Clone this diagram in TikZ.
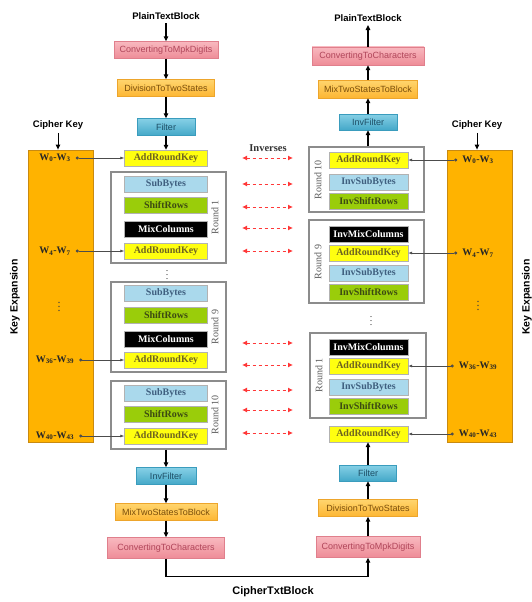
\documentclass[tikz,border=0pt]{standalone}
\usepackage{fontspec}
\setmainfont{Liberation Serif}
\setsansfont{Liberation Sans}
\usepackage{xcolor}
\usepackage{tikz}
\usetikzlibrary{arrows.meta,positioning,fit,backgrounds}
\definecolor{aesconvtop}{HTML}{F8B8BF}
\definecolor{aesconvbot}{HTML}{EE8C97}
\definecolor{aesconvline}{HTML}{E07F8C}
\definecolor{aesconvtext}{HTML}{B0465A}
\definecolor{aesdivtop}{HTML}{FFD56E}
\definecolor{aesdivbot}{HTML}{FDB633}
\definecolor{aesdivline}{HTML}{EDA52C}
\definecolor{aesdivtext}{HTML}{7A4E0B}
\definecolor{aesfilttop}{HTML}{86D0E6}
\definecolor{aesfiltbot}{HTML}{44A8C8}
\definecolor{aesfiltline}{HTML}{3A9CBD}
\definecolor{aesfilttext}{HTML}{1E4F66}
\definecolor{aesyellow}{HTML}{FFFF10}
\definecolor{aesarktext}{HTML}{6E6420}
\definecolor{aessubfill}{HTML}{AAD9EC}
\definecolor{aessubtext}{HTML}{3F5F7F}
\definecolor{aesshiftfill}{HTML}{9ACD0A}
\definecolor{aesshifttext}{HTML}{3C4A12}
\definecolor{aeskeyfill}{HTML}{FFB300}
\definecolor{aeskeyline}{HTML}{C98A10}
\definecolor{aesred}{HTML}{FF3838}
\tikzset{
  aesstage/.style={draw,inner sep=0pt,align=center},
  aespipe/.style={aesstage,font=\sffamily\fontsize{9}{10}\selectfont,minimum height=17},
  aesconv/.style={aespipe,draw=aesconvline,top color=aesconvtop,bottom color=aesconvbot,
                  text=aesconvtext},
  aesdiv/.style={aespipe,draw=aesdivline,top color=aesdivtop,bottom color=aesdivbot,
                 text=aesdivtext},
  aesfilt/.style={aespipe,draw=aesfiltline,top color=aesfilttop,bottom color=aesfiltbot,
                  text=aesfilttext},
  aesop/.style={aesstage,draw=black!30,font=\bfseries\fontsize{10}{11}\selectfont,
                minimum height=16},
  aesark/.style={aesop,fill=aesyellow,text=aesarktext},
  aessub/.style={aesop,fill=aessubfill,text=aessubtext},
  aesshift/.style={aesop,fill=aesshiftfill,text=aesshifttext},
  aesmix/.style={aesop,fill=black,text=white},
  aesround/.style={draw=black!45,line width=1.3pt,inner sep=0pt},
  aesroundlab/.style={rotate=90,font=\fontsize{10}{11}\selectfont,text=black!65},
  aeskey/.style={draw=aeskeyline,fill=aeskeyfill,line width=0.8pt,inner sep=0pt},
  aesw/.style={font=\bfseries\fontsize{10}{11}\selectfont,text=black!85,inner xsep=5pt},
  aesdots/.style={inner sep=0pt,font=\fontsize{10}{10}\selectfont,text=black!75},
  aestitle/.style={font=\sffamily\bfseries\fontsize{9.5}{11}\selectfont},
  aesflow/.style={-{Triangle[length=5pt,width=4.5pt]},line width=1.3pt},
  aeswflow/.style={{Circle[length=3pt]}-{Latex[length=4pt,width=3pt]},black!70,line width=0.6pt},
  aesinverse/.style={{Latex[length=5pt,width=5pt]}-{Latex[length=5pt,width=5pt]},aesred,
                     line width=1pt,dash pattern=on 3pt off 3pt}
}

\begin{document}
\begin{tikzpicture}[
  x=1pt,y=-1pt,
  opL/.style={minimum width=83},
  opR/.style={minimum width=79}
]
  \useasboundingbox (0,0) rectangle (531,602);

  % encryption side
  \node[aestitle] (ptL) at (166,16) {PlainTextBlock};
  \node[aesconv,minimum width=104] (cmdL) at (166,50) {ConvertingToMpkDigits};
  \node[aesdiv,minimum width=97] (dtsL) at (166,88) {DivisionToTwoStates};
  \node[aesfilt,minimum width=58] (filL) at (166,127) {Filter};
  \node[aesark,opL] (ark0L) at (166,158) {AddRoundKey};

  \node[aesround,minimum width=115,minimum height=91] (rnd1L) at (168.5,217.5) {};
  \node[aesroundlab] (rnd1Llab) at (215,217.5) {Round 1};
  \node[aessub,opL] (sb1L) at (166,184) {SubBytes};
  \node[aesshift,opL] (sr1L) at (166,205) {ShiftRows};
  \node[aesmix,opL] (mc1L) at (166,229) {MixColumns};
  \node[aesark,opL] (ark1L) at (166,251) {AddRoundKey};

  \node[aesdots] (dotsL) at (167,272) {$\vdots$};

  \node[aesround,minimum width=115,minimum height=90] (rnd9L) at (168.5,327) {};
  \node[aesroundlab] (rnd9Llab) at (215,327) {Round 9};
  \node[aessub,opL] (sb9L) at (166,293) {SubBytes};
  \node[aesshift,opL] (sr9L) at (166,315) {ShiftRows};
  \node[aesmix,opL] (mc9L) at (166,339) {MixColumns};
  \node[aesark,opL] (ark9L) at (166,360) {AddRoundKey};

  \node[aesround,minimum width=115,minimum height=68] (rnd10L) at (168.5,415) {};
  \node[aesroundlab] (rnd10Llab) at (215,415) {Round 10};
  \node[aessub,opL] (sb10L) at (166,393) {SubBytes};
  \node[aesshift,opL] (sr10L) at (166,414) {ShiftRows};
  \node[aesark,opL] (ark10L) at (166,436) {AddRoundKey};

  \node[aesfilt,minimum width=60] (invfL) at (166,476) {InvFilter};
  \node[aesdiv,minimum width=102] (mtsL) at (166,512) {MixTwoStatesToBlock};
  \node[aesconv,minimum width=117,minimum height=21] (cchL) at (166,548) {ConvertingToCharacters};

  \draw[aesflow] (ptL) -- (cmdL);
  \draw[aesflow] (cmdL) -- (dtsL);
  \draw[aesflow] (dtsL) -- (filL);
  \draw[aesflow] (filL) -- (ark0L);
  \draw[aesflow] (invfL |- rnd10L.south) -- (invfL);
  \draw[aesflow] (invfL) -- (mtsL);
  \draw[aesflow] (mtsL) -- (cchL);

  % decryption side
  \node[aestitle] (ptR) at (368,18) {PlainTextBlock};
  \node[aesconv,minimum width=112,minimum height=18] (cchR) at (368,56) {ConvertingToCharacters};
  \node[aesdiv,minimum width=99,minimum height=18] (mtsR) at (368,89) {MixTwoStatesToBlock};
  \node[aesfilt,minimum width=58,minimum height=16] (invfR) at (368,122) {InvFilter};

  \node[aesround,minimum width=115,minimum height=65] (rnd10R) at (366.5,179.5) {};
  \node[aesroundlab] (rnd10Rlab) at (318,180) {Round 10};
  \node[aesark,opR] (ark10R) at (368.5,160) {AddRoundKey};
  \node[aessub,opR] (isb10R) at (368.5,182) {InvSubBytes};
  \node[aesshift,opR] (isr10R) at (368.5,201) {InvShiftRows};

  \node[aesround,minimum width=115,minimum height=83] (rnd9R) at (366.5,261.5) {};
  \node[aesroundlab] (rnd9Rlab) at (318,262) {Round 9};
  \node[aesmix,opR] (imc9R) at (368.5,234) {InvMixColumns};
  \node[aesark,opR] (ark9R) at (368.5,253) {AddRoundKey};
  \node[aessub,opR] (isb9R) at (368.5,273) {InvSubBytes};
  \node[aesshift,opR] (isr9R) at (368.5,292) {InvShiftRows};

  \node[aesdots] (dotsR) at (371,318) {$\vdots$};

  \node[aesround,minimum width=116,minimum height=85] (rnd1R) at (368,375.5) {};
  \node[aesroundlab] (rnd1Rlab) at (319,375.5) {Round 1};
  \node[aesmix,opR] (imc1R) at (368.5,347) {InvMixColumns};
  \node[aesark,opR] (ark1R) at (368.5,366) {AddRoundKey};
  \node[aessub,opR] (isb1R) at (368.5,387) {InvSubBytes};
  \node[aesshift,opR] (isr1R) at (368.5,406) {InvShiftRows};

  \node[aesark,opR] (ark0R) at (368.5,434) {AddRoundKey};
  \node[aesfilt,minimum width=57,minimum height=16] (filR) at (368,473) {Filter};
  \node[aesdiv,minimum width=99] (dtsR) at (368,508) {DivisionToTwoStates};
  \node[aesconv,minimum width=104,minimum height=21] (cmdR) at (368,547) {ConvertingToMpkDigits};

  \draw[aesflow] (cmdR) -- (dtsR);
  \draw[aesflow] (dtsR) -- (filR);
  \draw[aesflow] (filR) -- (ark0R.south -| filR);
  \draw[aesflow] (invfR |- rnd10R.north) -- (invfR);
  \draw[aesflow] (invfR) -- (mtsR);
  \draw[aesflow] (mtsR) -- (cchR);
  \draw[aesflow] (cchR) -- (ptR);

  \draw[aesflow] (cchL.south) -- ++(0,18) -| (cmdR.south);
  \node[font=\sffamily\bfseries\fontsize{11}{13}\selectfont] (ctb) at (273,592) {CipherTxtBlock};

  % key expansion, left
  \node[aestitle] (ckL) at (58,125) {Cipher Key};
  \node[aeskey,minimum width=65,minimum height=292] (kexL) at (60.5,296) {};
  \node[aestitle,font=\sffamily\bfseries\fontsize{10.5}{12}\selectfont,rotate=90] (kexLlab) at (15,297) {Key Expansion};
  \node[aesw] (w0L) at (55,158) {W\textsubscript{0}-W\textsubscript{3}};
  \node[aesw] (w1L) at (55,251) {W\textsubscript{4}-W\textsubscript{7}};
  \node[aesdots,font=\fontsize{12}{12}\selectfont] (kdotsL) at (59,304) {$\vdots$};
  \node[aesw] (w9L) at (55,360) {W\textsubscript{36}-W\textsubscript{39}};
  \node[aesw] (w10L) at (55,436) {W\textsubscript{40}-W\textsubscript{43}};
  \draw[aesflow,line width=1pt] (ckL) -- (ckL |- kexL.north);
  \draw[aeswflow] (w0L) -- (ark0L);
  \draw[aeswflow] (w1L) -- (ark1L);
  \draw[aeswflow] (w9L) -- (ark9L);
  \draw[aeswflow] (w10L) -- (ark10L);

  % key expansion, right
  \node[aestitle] (ckR) at (477,125) {Cipher Key};
  \node[aeskey,minimum width=65,minimum height=292] (kexR) at (479.5,296) {};
  \node[aestitle,font=\sffamily\bfseries\fontsize{10.5}{12}\selectfont,rotate=90] (kexRlab) at (527,297) {Key Expansion};
  \node[aesw] (w0R) at (478,160) {W\textsubscript{0}-W\textsubscript{3}};
  \node[aesw] (w1R) at (478,253) {W\textsubscript{4}-W\textsubscript{7}};
  \node[aesdots,font=\fontsize{12}{12}\selectfont] (kdotsR) at (478,303) {$\vdots$};
  \node[aesw] (w9R) at (478,366) {W\textsubscript{36}-W\textsubscript{39}};
  \node[aesw] (w10R) at (478,434) {W\textsubscript{40}-W\textsubscript{43}};
  \draw[aesflow,line width=1pt] (ckR) -- (ckR |- kexR.north);
  \draw[aeswflow] (w0R) -- (ark10R);
  \draw[aeswflow] (w1R) -- (ark9R);
  \draw[aeswflow] (w9R) -- (ark1R);
  \draw[aeswflow] (w10R) -- (ark0R);

  % inverse pairs
  \node[font=\bfseries\fontsize{10.5}{12}\selectfont,text=black!80] (invtxt) at (268,148) {Inverses};
  \foreach \y [count=\i] in {158,184,207,228,251,343,365,390,410,433} {
    \coordinate (invA\i) at (242,\y);
    \coordinate (invB\i) at (293,\y);
    \draw[aesinverse] (invA\i) -- (invB\i);
  }
\end{tikzpicture}
\end{document}
